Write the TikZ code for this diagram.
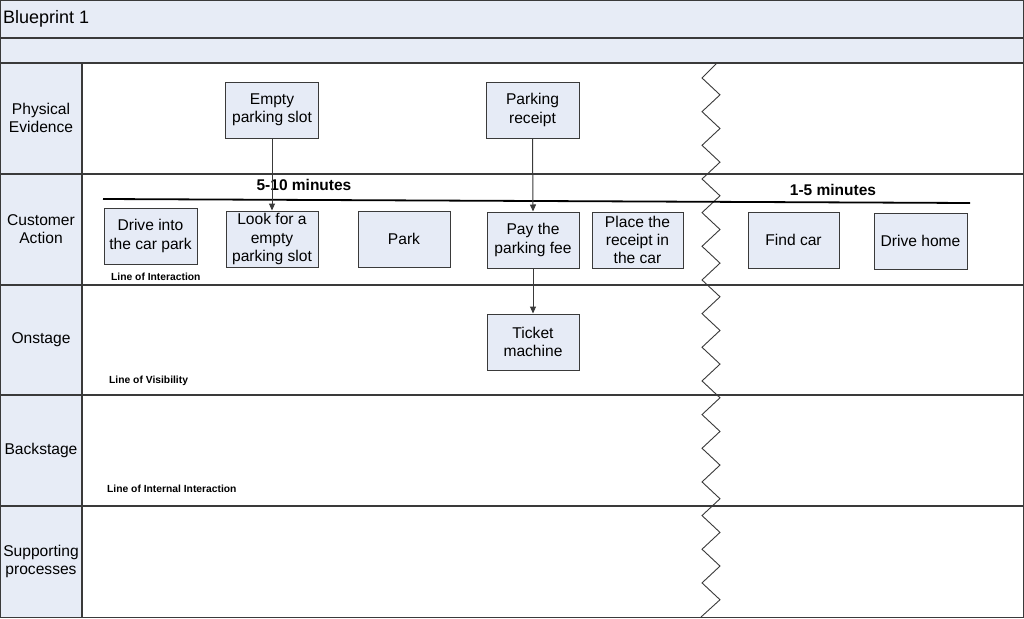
\documentclass[tikz,border=0pt]{standalone}
\usepackage{fontspec}
\setmainfont{Liberation Sans}
\usetikzlibrary{arrows.meta}
\definecolor{hdrfill}{HTML}{E7ECF6}
\definecolor{boxfill}{HTML}{E6EBF6}
\definecolor{ln}{HTML}{3A3A3A}
\begin{document}
\begin{tikzpicture}[x=1pt,y=-1pt,
  grid/.style={draw=ln, line width=1.4pt},
  stepbox/.style={draw=ln, fill=boxfill, line width=1pt, minimum width=92pt, minimum height=56pt,
    inner sep=0pt, align=center, font=\fontsize{15.6}{18.2}\selectfont},
  lanelabel/.style={align=center, font=\fontsize{15.6}{18}\selectfont, inner sep=0pt},
  linelabel/.style={anchor=west, font=\fontsize{10.3}{12}\selectfont\bfseries, inner sep=0pt},
  timelabel/.style={font=\fontsize{15.5}{18}\selectfont\bfseries, inner sep=0pt},
  flow/.style={draw=ln, line width=1pt, -{Triangle[length=7pt,width=6pt]}},
]
\useasboundingbox (0,0) rectangle (1024,618);
% background
\fill[white] (0,0) rectangle (1024,618);
\fill[hdrfill] (0,0) rectangle (1024,63);
\fill[hdrfill] (0,63) rectangle (82,618);
% grid
\draw[grid] (0.7,0.7) rectangle (1023.3,617.3);
\draw[grid] (0,38) -- (1024,38);
\draw[grid] (0,63) -- (1024,63);
\foreach \yy in {174,285,395,506} { \draw[grid] (0,\yy) -- (1024,\yy); }
\draw[grid] (82,63) -- (82,618);
% zigzag break line
\draw[draw=ln, line width=0.9pt] (717,63)
  \foreach \k in {0,...,31} { -- ({711-9*cos(180*\k)}, {78+16.83*\k}) } -- (701,617);
% title
\node[anchor=west, font=\fontsize{18}{20}\selectfont, inner sep=0pt] (title) at (3,19) {Blueprint 1};
% lane labels
\node[lanelabel] (lpe) at (41,118) {Physical\\Evidence};
\node[lanelabel] (lca) at (41,229) {Customer\\Action};
\node[lanelabel] (lon) at (41,340) {Onstage};
\node[lanelabel] (lba) at (41,450) {Backstage};
\node[lanelabel] (lsp) at (41,561) {Supporting\\processes};
% line labels
\node[linelabel] (loi) at (111,277) {Line of Interaction};
\node[linelabel] (lov) at (109,381) {Line of Visibility};
\node[linelabel] (lii) at (107,489) {Line of Internal Interaction};
% time line
\coordinate (tlA) at (103,199);
\coordinate (tlB) at (970,203);
\draw[draw=black, line width=1.8pt] (tlA) -- (tlB);
\node[timelabel] (t1) at (304,185) {5-10 minutes};
\node[timelabel] (t2) at (833,190) {1-5 minutes};
% boxes
\node[stepbox, minimum width=93pt] (eps) at (272,110) {Empty\\parking slot};
\node[stepbox, minimum width=93pt] (pr) at (532.5,110) {Parking\\receipt};
\node[stepbox, minimum width=93pt] (drv) at (150.5,236) {Drive into\\the car park};
\node[stepbox] (look) at (272,239) {Look for a\\empty\\parking slot};
\node[stepbox] (park) at (404,239) {Park};
\node[stepbox] (pay) at (533,240) {Pay the\\parking fee};
\node[stepbox, minimum width=91pt] (place) at (637.5,240) {Place the\\receipt in\\the car};
\node[stepbox, minimum width=91pt] (find) at (793.5,240) {Find car};
\node[stepbox, minimum width=93pt] (home) at (920.5,241) {Drive home};
\node[stepbox] (tm) at (533,342) {Ticket\\machine};
% connectors
\draw[flow] (eps.south) -- (look.north);
\draw[flow] (pr.south) -- (pay.north);
\draw[flow] (pay.south) -- (tm.north);
\end{tikzpicture}
\end{document}
